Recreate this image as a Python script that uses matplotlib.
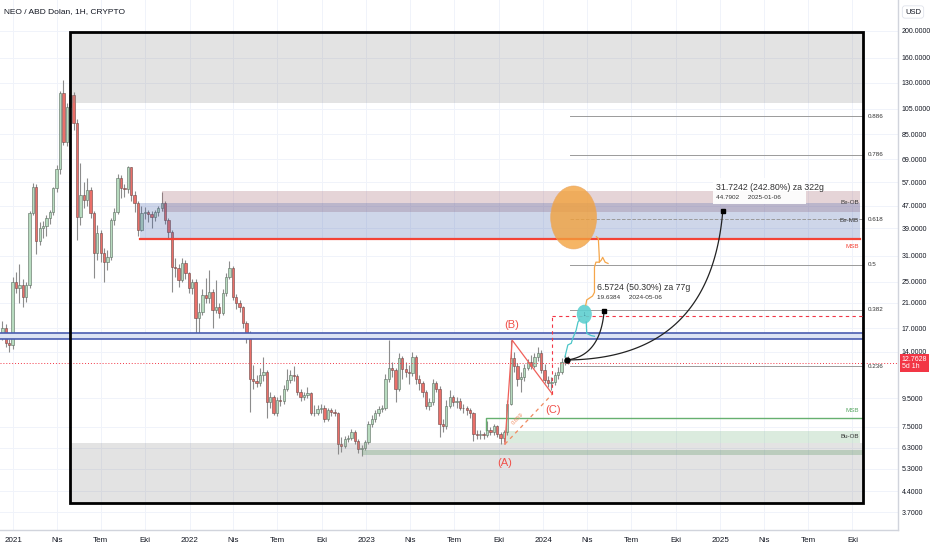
import numpy as np
import pandas as pd
import matplotlib
matplotlib.use("Agg")
import matplotlib.pyplot as plt
import matplotlib.dates as mdates
import matplotlib.transforms as mtrans
from matplotlib.patches import Rectangle, Ellipse

plt.rcParams['font.family'] = ['Liberation Sans', 'DejaVu Sans']

# ---- weekly NEO/USD candles ----
first_date = '2020-12-10'
first_open = 16.0
closes = [17.1, 15.1, 14.8, 24.9, 23.7, 24.3, 22.0, 24.3, 44.2, 54.8,
          35.0, 39.0, 39.6, 42.4, 44.5, 54.4, 63.6, 119.6, 79.6, 106.4,
          117.6, 93.2, 42.7, 51.3, 49.2, 53.4, 44.2, 31.7, 37.4, 31.7,
          29.4, 30.7, 41.7, 44.5, 59.1, 54.4, 54.0, 64.7, 51.3, 48.0,
          38.4, 44.2, 44.5, 43.8, 42.7, 44.5, 46.0, 48.0, 41.7, 37.7,
          28.2, 28.0, 25.3, 29.2, 26.8, 23.7, 24.9, 18.5, 19.4, 22.4,
          21.8, 22.9, 19.8, 20.2, 19.3, 22.7, 26.0, 28.0, 22.0, 20.9,
          20.2, 17.7, 16.3, 11.2, 10.96, 10.8, 11.5, 11.8, 9.2, 9.6,
          8.4, 9.36, 9.3, 10.3, 11.05, 11.5, 11.4, 10.0, 9.6, 9.75,
          9.9, 8.4, 8.45, 8.7, 8.8, 8.0, 8.6, 8.5, 8.4, 6.5,
          6.4, 6.8, 6.85, 7.2, 6.7, 6.25, 6.3, 6.6, 7.7, 8.0,
          8.4, 8.7, 8.8, 11.2, 12.2, 12.0, 10.3, 13.3, 12.1, 11.8,
          11.75, 13.4, 11.2, 10.8, 10.0, 8.95, 9.2, 10.8, 10.3, 7.7,
          7.55, 8.95, 9.6, 9.2, 9.3, 8.8, 8.75, 8.6, 8.4, 7.1,
          7.0, 7.1, 7.0, 7.3, 7.2, 7.55, 7.1, 6.85, 7.2, 9.1,
          13.3, 12.4, 11.2, 11.3, 12.2, 12.8, 12.4, 13.4, 13.9, 12.0,
          11.05, 10.8, 10.9, 11.5, 11.8, 12.8, 13.07, 12.76]
highs = [18.0, 17.6, 15.6, 26.0, 27.0, 29.0, 25.5, 25.0, 45.0, 56.5,
         56.0, 41.0, 41.5, 43.5, 45.5, 55.0, 66.0, 122.0, 133.0, 110.0,
         124.0, 121.0, 96.0, 66.9, 57.0, 59.0, 55.0, 45.0, 40.0, 38.5,
         33.0, 32.5, 42.5, 46.0, 61.0, 60.5, 56.0, 65.5, 65.0, 53.0,
         49.0, 47.0, 46.5, 45.5, 45.0, 45.5, 47.0, 52.6, 49.0, 42.5,
         38.5, 30.5, 29.0, 30.4, 30.0, 27.0, 25.5, 25.5, 21.0, 23.5,
         25.8, 27.5, 23.5, 25.3, 21.0, 23.5, 26.8, 29.7, 28.5, 22.5,
         21.5, 20.5, 18.0, 16.6, 12.5, 11.5, 12.2, 13.4, 12.0, 10.0,
         9.8, 9.6, 9.8, 10.6, 12.1, 12.0, 12.4, 11.6, 10.3, 10.0,
         10.4, 10.0, 9.0, 9.0, 9.1, 9.0, 8.8, 8.8, 8.7, 8.5,
         6.9, 6.95, 7.0, 7.4, 7.3, 6.8, 6.45, 6.75, 7.9, 8.3,
         8.6, 8.9, 9.0, 11.6, 15.4, 12.8, 12.2, 13.9, 13.5, 12.8,
         12.5, 14.0, 13.6, 11.5, 11.0, 10.2, 9.5, 11.2, 11.0, 10.5,
         8.0, 9.4, 10.2, 9.8, 9.6, 9.5, 9.1, 8.9, 8.8, 8.5,
         7.3, 7.3, 7.2, 7.9, 7.5, 7.7, 7.6, 7.2, 7.3, 9.4,
         15.4, 14.0, 12.7, 11.8, 12.6, 13.2, 13.6, 13.8, 14.6, 14.2,
         12.6, 11.4, 11.3, 11.8, 12.3, 13.3, 13.6, 13.5]
lows = [15.4, 14.6, 14.0, 14.3, 22.8, 21.0, 20.3, 21.2, 23.8, 43.5,
        31.5, 34.0, 36.0, 36.5, 40.5, 43.5, 52.5, 61.0, 78.0, 77.0,
        100.0, 88.0, 35.3, 40.0, 46.0, 47.0, 42.5, 25.8, 30.0, 29.5,
        24.9, 27.5, 30.0, 40.0, 44.0, 50.0, 50.5, 52.0, 49.0, 44.5,
        36.5, 38.0, 42.0, 41.0, 39.0, 41.5, 43.0, 45.0, 40.5, 35.5,
        22.9, 26.0, 24.0, 25.0, 25.5, 22.8, 22.5, 16.3, 16.0, 19.0,
        21.0, 21.0, 17.0, 19.3, 18.5, 19.0, 22.3, 25.5, 21.5, 20.0,
        19.5, 17.0, 15.0, 8.5, 10.3, 10.4, 10.5, 11.0, 8.1, 8.8,
        8.3, 8.2, 8.9, 9.1, 10.1, 10.8, 11.0, 9.8, 9.3, 9.4,
        9.5, 8.3, 8.2, 8.3, 8.4, 7.8, 7.9, 8.2, 8.2, 6.0,
        6.1, 6.3, 6.6, 6.75, 6.5, 6.05, 5.9, 6.2, 6.5, 7.5,
        7.8, 8.2, 8.5, 8.6, 10.9, 11.3, 9.2, 10.1, 11.2, 11.3,
        10.7, 11.4, 10.7, 10.2, 9.6, 8.7, 8.6, 9.0, 10.0, 6.9,
        7.2, 7.4, 8.8, 8.9, 8.8, 8.6, 8.4, 8.3, 8.1, 6.7,
        6.8, 6.8, 6.8, 6.9, 7.0, 7.0, 6.9, 6.5, 6.6, 7.0,
        9.0, 11.8, 10.5, 10.0, 11.0, 12.0, 12.1, 12.2, 13.0, 11.7,
        10.8, 10.4, 10.2, 10.6, 11.2, 11.6, 12.5, 12.6]
last_price = 12.7628

# ---- zones / levels ----
frame_start, frame_end = '2021-04-28', '2025-10-23'
frame_low, frame_high = 3.99, 198.3
top_zone = (110.0, 198.3)
bottom_zone = (3.99, 6.56)
be_ob = ('2021-11-04', 44.6, 53.0)
be_mb = ('2021-09-20', 35.6, 48.0)
msb_red = ('2021-09-20', 35.6)
bu_ob = ('2023-10-14', 6.56, 7.24)
bu_band = ('2022-12-23', 5.94, 6.19)
msb_green = ('2023-09-04', 8.07, 7.3)
zone_end = '2025-10-16'
blue_lines = (15.5, 16.3)

fib_ratios = [0.236, 0.382, 0.5, 0.618, 0.786, 0.886]
fib_low, fib_high = 5.85, 142.0
fib_start = '2024-02-25'

point_a = ('2023-10-14', 6.5)
point_b = ('2023-10-29', 15.4)
point_c = ('2024-01-20', 9.85)
dashed_top = 18.8

proj_start = ('2024-02-19', 13.066)
proj1_end = ('2024-05-06', 19.6384)
proj1_ctrl = ('2024-04-28', 13.5)
proj2_end = ('2025-01-06', 44.7902)
proj2_ctrl = ('2024-12-11', 13.2)

orange_center = ('2024-03-04', 42.6)
teal_center = ('2024-03-26', 19.1)
orange_a_dates = ['2024-05-14', '2024-05-08', '2024-05-03', '2024-04-30', '2024-04-26',
                  '2024-04-26', '2024-04-24', '2024-04-20']
orange_a_prices = [29.1, 29.4, 30.6, 29.9, 29.4, 30.6, 35.8, 36.3]
orange_b_dates = ['2024-04-26', '2024-04-19', '2024-04-16', '2024-04-16', '2024-04-12',
                  '2024-03-31', '2024-03-29']
orange_b_prices = [29.4, 29.4, 28.2, 22.9, 22.2, 21.5, 20.6]
teal_a_dates = ['2024-02-15', '2024-02-21', '2024-02-28', '2024-03-02', '2024-03-09',
                '2024-03-13', '2024-03-16']
teal_a_prices = [13.4, 14.8, 15.0, 15.6, 16.7, 17.9, 18.2]
teal_b_dates = ['2024-03-30', '2024-03-31', '2024-04-09', '2024-04-16']
teal_b_prices = [17.9, 16.3, 16.0, 15.9]

y_ticks = [200, 160, 130, 105, 85, 69, 57, 47, 39, 31, 25, 21, 17, 14,
           9.5, 7.5, 6.3, 5.3, 4.4, 3.7]
x_tick_dates = pd.date_range('2021-01-01', '2025-10-01', freq='QS')
month_names = {4: 'Nis', 7: 'Tem', 10: 'Eki'}


def dn(s):
    return mdates.date2num(pd.Timestamp(s))


W, H = 932, 550
fig = plt.figure(figsize=(W / 100, H / 100), dpi=100)
ax = fig.add_axes([0, 20 / H, 898 / W, 530 / H])
ax.set_yscale('log')
ax.set_xlim(dn('2020-12-05'), dn('2026-01-03'))
ax.set_ylim(3.19, 258.6)

# grid
for d in x_tick_dates:
    ax.axvline(dn(d), color='#f0f3fa', lw=0.7, zorder=0)
for v in y_ticks:
    ax.axhline(v, color='#f0f3fa', lw=0.7, zorder=0)

# candles
dates = pd.date_range(first_date, periods=len(closes), freq='7D')
x = mdates.date2num(dates)
c = np.array(closes)
o = np.array([first_open] + closes[:-1])
up = c >= o
ax.vlines(x, lows, highs, color='#8c8c8c', lw=0.8, zorder=2)
bot = np.minimum(o, c)
top = np.maximum(o, c)
ax.bar(x[up], top[up] - bot[up], bottom=bot[up], width=4.8,
       color='#b7dbbf', edgecolor='#5a6a5e', lw=0.4, zorder=2.5)
ax.bar(x[~up], top[~up] - bot[~up], bottom=bot[~up], width=4.8,
       color='#ea6f69', edgecolor='#6a4a48', lw=0.4, zorder=2.5)

# zones
fx0, fx1 = dn(frame_start), dn(frame_end)
ze = dn(zone_end)
ax.add_patch(Rectangle((fx0, top_zone[0]), fx1 - fx0, top_zone[1] - top_zone[0],
                       facecolor='#8a8a8a', alpha=0.24, lw=0, zorder=3))
ax.add_patch(Rectangle((fx0, bottom_zone[0]), fx1 - fx0, bottom_zone[1] - bottom_zone[0],
                       facecolor='#8a8a8a', alpha=0.24, lw=0, zorder=3))
ax.add_patch(Rectangle((dn(be_ob[0]), be_ob[1]), ze - dn(be_ob[0]), be_ob[2] - be_ob[1],
                       facecolor='#9b5763', alpha=0.25, lw=0, zorder=3))
ax.add_patch(Rectangle((dn(be_mb[0]), be_mb[1]), ze - dn(be_mb[0]), be_mb[2] - be_mb[1],
                       facecolor='#3f5fab', alpha=0.25, lw=0, zorder=3))
ax.add_patch(Rectangle((dn(bu_ob[0]), bu_ob[1]), ze - dn(bu_ob[0]), bu_ob[2] - bu_ob[1],
                       facecolor='#5fa86a', alpha=0.22, lw=0, zorder=3))
ax.add_patch(Rectangle((dn(bu_band[0]), bu_band[1]), fx1 - dn(bu_band[0]), bu_band[2] - bu_band[1],
                       facecolor='#5f9a68', alpha=0.3, lw=0, zorder=3))
ax.plot([dn(msb_red[0]), ze], [msb_red[1]] * 2, color='#f44336', lw=1.6, zorder=4)
ax.plot([dn(msb_green[0]), dn(msb_green[0]), fx1], [msb_green[2], msb_green[1], msb_green[1]],
        color='#66b070', lw=1.0, zorder=4)

# blue horizontal pair
ax.fill_between([ax.get_xlim()[0], fx1], blue_lines[0], blue_lines[1],
                color='#dde4f4', zorder=3, lw=0)
for v in blue_lines:
    ax.plot([ax.get_xlim()[0], fx1], [v, v], color='#4a5db0', lw=1.2, zorder=4)

# current price dotted line
ax.axhline(last_price, color='#f23645', lw=0.7, ls=(0, (1, 2)), zorder=4)

# fib levels
for r in fib_ratios:
    lvl = fib_low * (fib_high / fib_low) ** r
    ax.plot([dn(fib_start), fx1], [lvl, lvl], color='#9a9a9a', lw=0.7,
            ls='--' if r == 0.618 else '-', zorder=4)
    ax.text(fx1 + 9, lvl, str(r), fontsize=4.5, color='#333333', va='center', ha='left')

# frame
ax.add_patch(Rectangle((fx0, frame_low), fx1 - fx0, frame_high - frame_low,
                       fill=False, edgecolor='black', lw=2.0, zorder=5))

# zone labels
lab_x = dn('2025-10-14')
ax.text(lab_x, 48.4, 'Be-OB', fontsize=4.5, ha='right', va='center', color='#333333', zorder=6)
ax.text(lab_x, 41.7, 'Be-MB', fontsize=4.5, ha='right', va='center', color='#333333', zorder=6)
ax.text(lab_x, 33.4, 'MSB', fontsize=4.5, ha='right', va='center', color='#f44336', zorder=6)
ax.text(lab_x, 8.56, 'MSB', fontsize=4.5, ha='right', va='center', color='#5aa865', zorder=6)
ax.text(lab_x, 6.9, 'Bu-OB', fontsize=4.5, ha='right', va='center', color='#333333', zorder=6)

# ABC pattern
ax.plot([dn(point_a[0]), dn(point_b[0]), dn(point_c[0])],
        [point_a[1], point_b[1], point_c[1]], color='#f0605a', lw=0.9, zorder=6)
ax.plot([dn(point_a[0]), dn(point_c[0])], [point_a[1], point_c[1]],
        color='#f08a60', lw=0.9, ls=(0, (3, 3)), zorder=6)
ax.plot([dn(point_c[0])] * 2, [point_c[1], dashed_top], color='#f23645', lw=0.8,
        ls=(0, (3, 3)), zorder=6)
ax.plot([dn(point_c[0]), fx1], [dashed_top] * 2, color='#f23645', lw=0.8,
        ls=(0, (3, 3)), zorder=6)
ax.text(dn('2023-11-10'), 8.0, '0.659', fontsize=4.2, color='#f08a60', rotation=46,
        ha='center', va='center', zorder=6)
ax.text(dn(point_a[0]), 5.55, '(A)', fontsize=8, color='#f0504a', ha='center', va='center', zorder=6)
ax.text(dn(point_b[0]), 17.5, '(B)', fontsize=8, color='#f0504a', ha='center', va='center', zorder=6)
ax.text(dn(point_c[0]) + 2, 8.62, '(C)', fontsize=8, color='#f0504a', ha='center', va='center', zorder=6)

# ellipses (sized in pixels, placed via data position)
to_axes = ax.transData + ax.transAxes.inverted()
oc = to_axes.transform((dn(orange_center[0]), orange_center[1]))
ax.add_patch(Ellipse(oc, 46 / 898, 63 / 530, transform=ax.transAxes,
                     facecolor='#f3a13a', alpha=0.78, edgecolor='#e8a868', lw=0.5, zorder=6))
tc = to_axes.transform((dn(teal_center[0]), teal_center[1]))
ax.add_patch(Ellipse(tc, 15 / 898, 19 / 530, transform=ax.transAxes,
                     facecolor='#5fd0d0', alpha=0.9, lw=0, zorder=6))
ax.text(tc[0], tc[1], '↓', transform=ax.transAxes, fontsize=5, color='#2f7f8f',
        ha='center', va='center', zorder=7)

# hand-drawn paths
ax.plot(mdates.date2num(pd.to_datetime(orange_a_dates)), orange_a_prices, color='#f5a64a', lw=0.9, zorder=6)
ax.plot(mdates.date2num(pd.to_datetime(orange_b_dates)), orange_b_prices, color='#f5a64a', lw=0.9, zorder=6)
ax.plot(mdates.date2num(pd.to_datetime(teal_a_dates)), teal_a_prices, color='#4cc6c8', lw=0.9, zorder=6)
ax.plot(mdates.date2num(pd.to_datetime(teal_b_dates)), teal_b_prices, color='#4cc6c8', lw=0.9, zorder=6)


def bezier(p0, p1, p2, n=80):
    t = np.linspace(0, 1, n)[:, None]
    a = np.array([dn(p0[0]), np.log10(p0[1])])
    b = np.array([dn(p1[0]), np.log10(p1[1])])
    cc = np.array([dn(p2[0]), np.log10(p2[1])])
    pts = (1 - t) ** 2 * a + 2 * (1 - t) * t * b + t ** 2 * cc
    return pts[:, 0], 10 ** pts[:, 1]


for ctrl, end in [(proj1_ctrl, proj1_end), (proj2_ctrl, proj2_end)]:
    bx, by = bezier(proj_start, ctrl, end)
    ax.plot(bx, by, color='#222222', lw=0.9, zorder=7)
    ax.plot(dn(end[0]), end[1], marker='s', ms=3, color='black', zorder=8)
ax.plot(dn(proj_start[0]), proj_start[1], marker='o', ms=3.5, color='black', zorder=8)

# projection labels
ax.text(dn('2024-04-22'), 23.9, '6.5724 (50.30%) za 77g', fontsize=6.3, color='#333333',
        va='center', zorder=8)
ax.text(dn('2024-04-22'), 21.9, '19.6384     2024-05-06', fontsize=4.6, color='#333333',
        va='center', zorder=8)
ax.add_patch(Rectangle((dn('2024-12-17'), 47.6), dn('2025-06-27') - dn('2024-12-17'), 59.1 - 47.6,
                       facecolor='white', alpha=0.92, lw=0, zorder=7))
ax.text(dn('2024-12-23'), 54.8, '31.7242 (242.80%) za 322g', fontsize=6.3, color='#333333',
        va='center', zorder=8)
ax.text(dn('2024-12-23'), 50.4, '44.7902     2025-01-06', fontsize=4.6, color='#333333',
        va='center', zorder=8)

# axes styling
for s in ['top', 'left']:
    ax.spines[s].set_visible(False)
for s in ['right', 'bottom']:
    ax.spines[s].set_color('#d1d4dc')
    ax.spines[s].set_linewidth(1.0)
ax.yaxis.set_minor_locator(matplotlib.ticker.NullLocator())
ax.set_yticks(y_ticks)
ax.set_yticklabels([f'{v:.4f}' for v in y_ticks])
ax.yaxis.tick_right()
ax.tick_params(axis='y', length=0, pad=2.5, labelsize=5.0, labelcolor='#131722')
ax.set_xticks(mdates.date2num(x_tick_dates))
ax.set_xticklabels([str(d.year) if d.month == 1 else month_names[d.month] for d in x_tick_dates])
ax.tick_params(axis='x', length=0, pad=5, labelsize=5.8, labelcolor='#131722')

# price tag
blend = mtrans.blended_transform_factory(ax.transAxes, ax.transData)
ax.text(1.004, last_price, f'{last_price:.4f}\n5d 1h', transform=blend, fontsize=5.0,
        color='white', va='center', ha='left', linespacing=1.1, clip_on=False, zorder=10,
        bbox=dict(boxstyle='square,pad=0.25', facecolor='#f23645', edgecolor='none'))

fig.text(4 / W, 1 - 12 / H, 'NEO / ABD Dolan, 1H, CRYPTO', fontsize=6, color='#131722', va='center')
fig.text(905 / W, 1 - 12 / H, 'USD', fontsize=5.5, color='#131722', va='center',
         bbox=dict(boxstyle='round,pad=0.35', facecolor='white', edgecolor='#e0e3eb', lw=0.6))

fig.savefig('out.png', dpi=100)
